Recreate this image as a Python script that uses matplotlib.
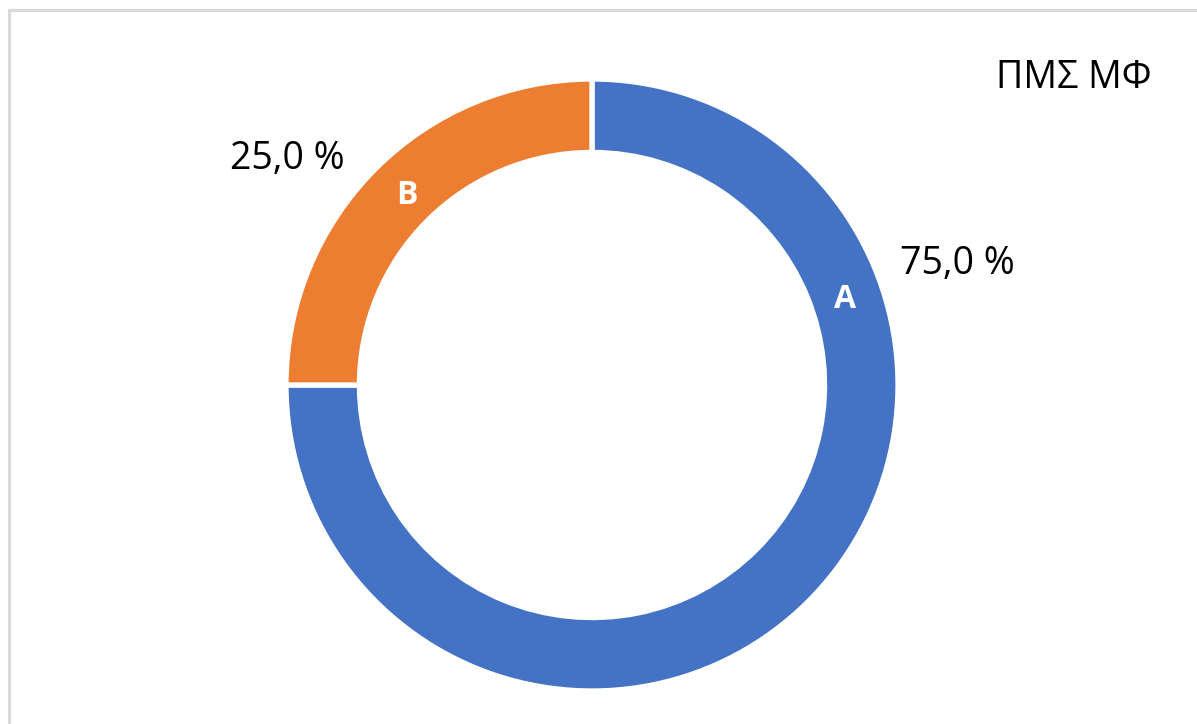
import matplotlib.pyplot as plt
from matplotlib.lines import Line2D

# data
labels = ["A", "B"]
values = [75.0, 25.0]
colors = ["#4472C4", "#ED7D31"]
title = "ΠΜΣ ΜΦ"

plt.rcParams['font.family'] = ['Open Sans', 'DejaVu Sans']

W, H = 1197, 724
fig = plt.figure(figsize=(W/100, H/100), dpi=100)

# ring centred at (592, 385) px, outer radius 306 px
cx, cy, r = 592, 385, 306
ax = fig.add_axes([(cx-r)/W, (H-cy-r)/H, 2*r/W, 2*r/H])
wedges, _ = ax.pie(values, colors=colors, startangle=90, counterclock=False,
                   radius=1, wedgeprops=dict(width=0.24, edgecolor="white", linewidth=3.8))
ax.set_xlim(-1, 1)
ax.set_ylim(-1, 1)
ax.set_aspect("equal")
ax.axis("off")

# category labels inside the ring, percent labels outside
name_pos = [(0.827, 0.278), (-0.605, 0.618)]
pct_pos = [(1.193, 0.395), (-0.997, 0.739)]
total = sum(values)
for lab, v, (nx, ny), (px, py) in zip(labels, values, name_pos, pct_pos):
  ax.text(nx, ny, lab, color="white", fontsize=23, fontweight="bold",
          ha="center", va="center")
  pct = f"{v/total*100:.1f}".replace(".", ",") + " %"
  ax.text(px, py, pct, color="black", fontsize=27, ha="center", va="center")

fig.text(1074/W, 1-78/H, title, fontsize=27, ha="center", va="center")

# chart frame, only top and left edges visible
fig.add_artist(Line2D([8.5/W, 8.5/W], [0, 1-10/H], color="#d9d9d9", lw=2.2))
fig.add_artist(Line2D([8.5/W, 1], [1-10/H, 1-10/H], color="#d9d9d9", lw=2.2))

fig.savefig("out.png", dpi=100)
